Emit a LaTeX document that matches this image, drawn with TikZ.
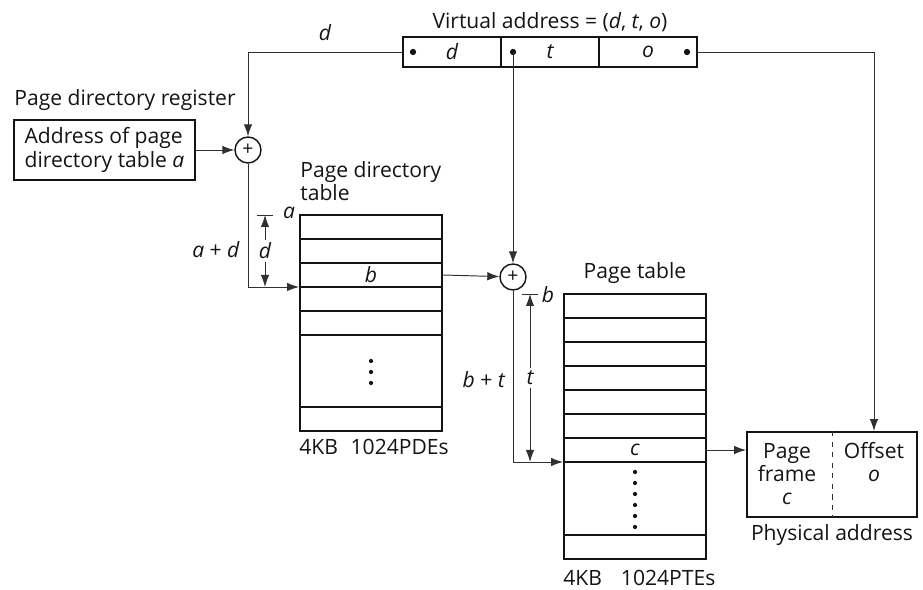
\documentclass[tikz,border=0pt]{standalone}
\usepackage{fontspec}
\setmainfont{Open Sans}
\usepackage{tikz}
\usetikzlibrary{arrows.meta, calc, positioning}
\definecolor{inkgray}{HTML}{141414}
\definecolor{linkgray}{HTML}{303030}
\tikzset{
  txt/.style     = {font=\fontsize{12}{13.2}\selectfont, inner sep=0pt, text=inkgray},
  itx/.style     = {txt, font=\fontsize{12}{13.2}\selectfont\itshape},
  field/.style   = {draw=inkgray, line width=1.1pt, minimum width=1.96cm, minimum height=0.6cm,
                    inner sep=0pt, text=inkgray, font=\fontsize{12}{13}\selectfont\itshape},
  adder/.style   = {circle, draw=inkgray, line width=0.8pt, minimum size=0.52cm, inner sep=0pt,
                    text=inkgray, font=\fontsize{11}{11}\selectfont},
  tabbox/.style  = {draw=inkgray, line width=1.1pt, minimum width=2.84cm, inner sep=0pt},
  rowline/.style = {draw=inkgray, line width=1.1pt},
  link/.style    = {draw=linkgray, line width=0.55pt, -{Latex[length=2.4mm, width=1.7mm]}},
  dimline/.style = {draw=linkgray, line width=0.55pt,
                    {Latex[length=2.4mm, width=1.7mm]}-{Latex[length=2.4mm, width=1.7mm]}},
  tick/.style    = {draw=linkgray, line width=0.55pt},
}
\newcommand{\vdotcol}[4]{% x, first y, step, count
  \foreach \k in {1,...,#4} {\fill[inkgray] (#1,{#2+(\k-1)*#3}) circle[radius=1.2pt];}}

\begin{document}
\begin{tikzpicture}[x=0.02cm, y=-0.02cm]
  \useasboundingbox (0,0) rectangle (923,590);
  % virtual address
  \node[txt] (vtitle) at (550,22) {Virtual address = (\textit{d}, \textit{t}, \textit{o})};
  \node[field] (vd) at (452,52) {d};
  \node[field] (vt) at (550,52) {t};
  \node[field] (vo) at (648,52) {o};
  \coordinate (dotd) at (413,52);
  \coordinate (dott) at (513,52);
  \coordinate (doto) at (687,52);
  \foreach \p in {dotd,dott,doto} \fill[inkgray] (\p) circle[radius=1.8pt];
  % page directory register
  \node[txt, anchor=west] (regtitle) at (14,100) {Page directory register};
  \node[draw=inkgray, line width=1.1pt, minimum width=3.62cm, minimum height=1.2cm,
        align=left, txt, inner sep=0pt] (reg) at (104.5,150) {Address of page\\directory table \textit{a}};
  % adders
  \node[adder] (sum1) at (248,150) {+};
  \node[adder] (sum2) at (513,277) {+};
  % page directory table
  \node[tabbox, minimum height=4.32cm] (pdt) at (371,323) {};
  \foreach \y in {239,263,287,311,335,407}
    \draw[rowline] (pdt.west |- 0,\y) -- (pdt.east |- 0,\y);
  \node[txt, anchor=west, align=left] (pdttitle) at (300,181) {Page directory\\table};
  \node[itx] (pdb) at (371,275) {b};
  \vdotcol{371}{361}{11}{3}
  \node[txt, anchor=west] (pdsize) at (299,447) {4KB\hspace{0.6em}1024PDEs};
  % page table
  \node[tabbox, minimum height=5.3cm] (ptt) at (635,426.5) {};
  \foreach \y in {318,342,366,390,414,438,462,535}
    \draw[rowline] (ptt.west |- 0,\y) -- (ptt.east |- 0,\y);
  \node[txt] (pttitle) at (635,273) {Page table};
  \node[itx] (ptc) at (635,450) {c};
  \vdotcol{635}{472}{11}{6}
  \node[txt, anchor=west] (ptsize) at (563,578) {4KB\hspace{0.9em}1024PTEs};
  % physical address
  \node[draw=inkgray, line width=1.1pt, minimum width=3.4cm, minimum height=1.7cm] (phys) at (832,474.5) {};
  \draw[draw=linkgray, line width=0.45pt, dashed] (phys.north) -- (phys.south);
  \node[txt, align=center] (frame) at (787,474) {Page\\frame\\\textit{c}};
  \node[txt, align=center] (offs) at (874,462) {Offset\\\textit{o}};
  \node[txt] (phystitle) at (832,535) {Physical address};
  % connectors
  \draw[link] (vd.west) -| (sum1);
  \node[itx] (dlab) at (325,33) {d};
  \draw[link] (reg) -- (sum1);
  \coordinate (pdin) at (pdt.west |- 0,287);
  \draw[link] (sum1) |- (pdin);
  \draw[link] (pdt.east |- pdb) -- (sum2);
  \draw[link] (dott) -- (sum2);
  \coordinate (ptin) at (ptt.west |- 0,462);
  \draw[link] (sum2) |- (ptin);
  \draw[link] (ptt.east |- ptc) -- (phys.west |- ptc);
  \draw[link] (vo.east) -| (offs |- phys.north);
  % offsets d and t
  \draw[tick] (257,215) -- (273,215);
  \node[itx] (pda) at (289,213) {a};
  \draw[dimline] (265,215) -- node[itx, fill=white, inner sep=1.5pt] (dimd) {d} (265,287);
  \node[txt] (apd) at (216,250) {\textit{a} + \textit{d}};
  \draw[tick] (522,294) -- (538,294);
  \node[itx] (ptb) at (548,295) {b};
  \draw[dimline] (530,294) -- node[itx, fill=white, inner sep=1.5pt] (dimt) {t} (530,462);
  \node[txt] (bpt) at (484,380) {\textit{b} + \textit{t}};
\end{tikzpicture}
\end{document}
